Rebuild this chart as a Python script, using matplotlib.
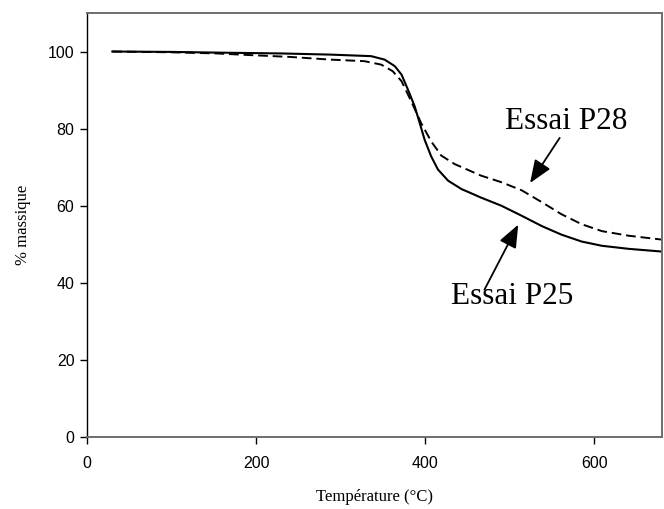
import matplotlib
matplotlib.use("Agg")
import matplotlib.pyplot as plt

# courbes ATG
temp_p25 = [30, 100, 160, 230, 288, 336, 352, 364, 372, 379.6, 387.5, 393.4, 399.3, 407, 415, 427,
            443, 454.6, 466, 490, 514, 538, 561, 585, 609, 641, 680]
mass_p25 = [100.0, 99.9, 99.7, 99.5, 99.2, 98.8, 97.9, 96.2, 94.0, 90.1, 85.8, 81.5, 77.1, 72.8, 69.4, 66.5,
            64.3, 63.2, 62.1, 60.0, 57.4, 54.7, 52.5, 50.7, 49.6, 48.8, 48.1]

temp_p28 = [30, 100, 154, 181, 240, 288, 328, 348, 361.5, 372, 383.4, 395, 407, 419, 434.8, 454.6,
            466, 490, 514, 538, 561, 585, 609, 641, 680]
mass_p28 = [100.0, 99.8, 99.5, 99.2, 98.6, 97.9, 97.5, 96.6, 94.9, 92.3, 87.1, 81.5, 76.7, 73.0, 70.8, 68.9,
            67.8, 66.1, 64.0, 60.9, 57.8, 55.2, 53.4, 52.2, 51.2]

xticks = [0, 200, 400, 600]
yticks = [0, 20, 40, 60, 80, 100]

fig = plt.figure(figsize=(6.64, 5.09), dpi=100)
ax = fig.add_axes([0.131, 0.1415, 0.866, 0.833])

ax.plot(temp_p25, mass_p25, color="black", lw=1.5, solid_joinstyle="round")
ax.plot(temp_p28, mass_p28, color="black", lw=1.4, dashes=(5, 2.5), dash_joinstyle="round")

ax.set_xlim(0, 680)
ax.set_ylim(0, 110)
ax.set_xticks(xticks)
ax.set_yticks(yticks)

for lbl in ax.get_xticklabels() + ax.get_yticklabels():
    lbl.set_fontfamily("Liberation Sans")
    lbl.set_fontsize(11.5)
ax.tick_params(direction="out", length=5, width=1, top=False, right=False, pad=4)
ax.tick_params(axis="x", pad=9)

ax.spines["left"].set_color("black")
ax.spines["left"].set_linewidth(1.0)
for s in ["top", "right", "bottom"]:
    ax.spines[s].set_color("#6e6e6e")
    ax.spines[s].set_linewidth(1.4)

ax.set_xlabel("Température (°C)", family="Liberation Serif", fontsize=12, labelpad=13)
ax.set_ylabel("% massique", family="Liberation Serif", fontsize=12, labelpad=12)

arrow = dict(arrowstyle="-|>,head_length=0.7,head_width=0.28", color="black", lw=1.3,
             shrinkA=0, shrinkB=0, mutation_scale=20)
ax.annotate("", xy=(524, 65.9), xytext=(559, 77.6), arrowprops=arrow)
ax.annotate("", xy=(510, 55.1), xytext=(470, 38.2), arrowprops=arrow)
ax.text(494, 81.8, "Essai P28", family="Liberation Serif", fontsize=22.5, va="center", ha="left")
ax.text(430, 36.4, "Essai P25", family="Liberation Serif", fontsize=22.5, va="center", ha="left")

fig.savefig("out.png", dpi=100)
